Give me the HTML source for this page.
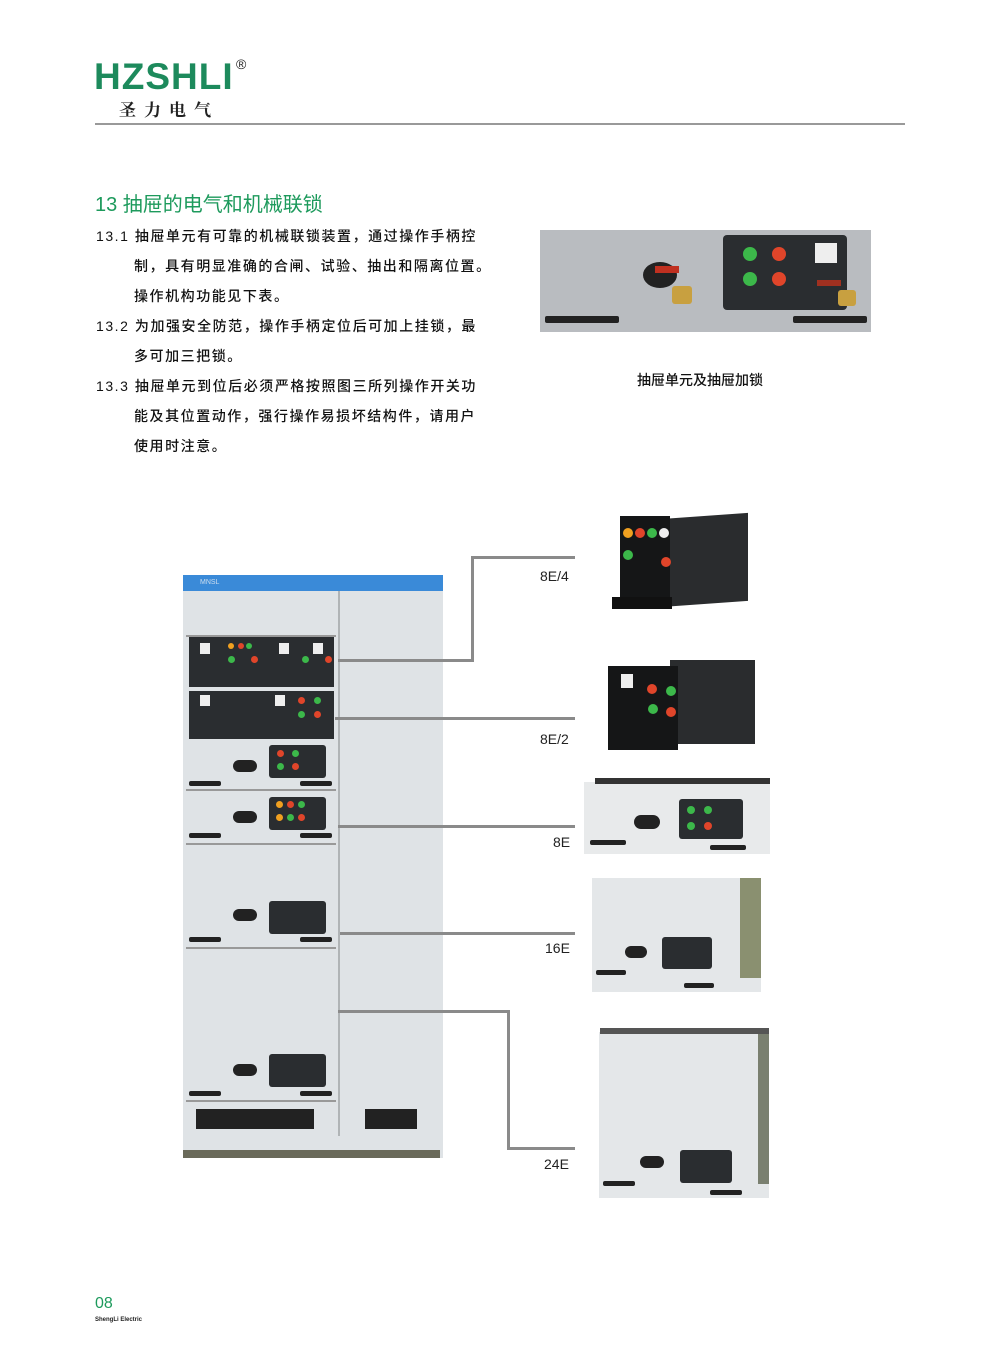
<!DOCTYPE html>
<html><head><meta charset="utf-8"><style>
*{margin:0;padding:0;box-sizing:border-box}
body{width:1000px;height:1357px;background:#fff;position:relative;overflow:hidden;font-family:"Liberation Sans","Noto Sans CJK SC",sans-serif}
.a{position:absolute}
.t{position:absolute;font-size:14px;color:#111;white-space:nowrap;letter-spacing:1.55px;font-weight:500}
.b{position:absolute;border-radius:50%;width:12px;height:12px}
.r{background:#e0452a}.g{background:#3cb84a}.y{background:#f0a020}.w{background:#eee}
.ln{position:absolute;background:#8a8a8a}
.lab{position:absolute;font-size:14px;color:#222}
.dk{background:#2a2d30}
.rail{position:absolute;height:7px;background:#222;border-radius:2px}
</style></head><body>
<div class="a" style="left:94px;top:56px;font-size:37px;font-weight:bold;color:#1d8a5c;letter-spacing:1px">HZSHLI</div>
<div class="a" style="left:236px;top:56px;font-size:14px;color:#222">®</div>
<div class="a" style="left:119px;top:96px;font-size:17px;font-weight:bold;color:#222;letter-spacing:8px;font-family:'Noto Serif CJK SC',serif">圣力电气</div>
<div class="a" style="left:95px;top:123px;width:810px;height:2px;background:#999"></div>

<div class="a" style="left:95px;top:188px;font-size:20px;color:#1d9a5c">13 抽屉的电气和机械联锁</div>
<div class="t" style="left:96px;top:226px">13.1 抽屉单元有可靠的机械联锁装置，通过操作手柄控</div>
<div class="t" style="left:134px;top:256px">制，具有明显准确的合闸、试验、抽出和隔离位置。</div>
<div class="t" style="left:134px;top:286px">操作机构功能见下表。</div>
<div class="t" style="left:96px;top:316px">13.2 为加强安全防范，操作手柄定位后可加上挂锁，最</div>
<div class="t" style="left:134px;top:346px">多可加三把锁。</div>
<div class="t" style="left:96px;top:376px">13.3 抽屉单元到位后必须严格按照图三所列操作开关功</div>
<div class="t" style="left:134px;top:406px">能及其位置动作，强行操作易损坏结构件，请用户</div>
<div class="t" style="left:134px;top:436px">使用时注意。</div>

<!-- top photo -->
<div class="a" style="left:540px;top:230px;width:331px;height:102px;background:#b9bcc0"></div>
<div class="a dk" style="left:723px;top:235px;width:124px;height:75px;border-radius:4px"></div>
<div class="b g" style="left:743px;top:247px;width:14px;height:14px"></div>
<div class="b r" style="left:772px;top:247px;width:14px;height:14px"></div>
<div class="b g" style="left:743px;top:272px;width:14px;height:14px"></div>
<div class="b r" style="left:772px;top:272px;width:14px;height:14px"></div>
<div class="a" style="left:815px;top:243px;width:22px;height:20px;background:#eee"></div>
<div class="a" style="left:817px;top:280px;width:24px;height:6px;background:#a03020"></div>
<div class="a" style="left:838px;top:290px;width:18px;height:16px;background:#c8a040;border-radius:3px"></div>
<div class="a" style="left:643px;top:262px;width:34px;height:26px;background:#222;border-radius:50%"></div>
<div class="a" style="left:655px;top:266px;width:24px;height:7px;background:#c03020"></div>
<div class="a" style="left:672px;top:286px;width:20px;height:18px;background:#c8a040;border-radius:3px"></div>
<div class="rail" style="left:545px;top:316px;width:74px"></div>
<div class="rail" style="left:793px;top:316px;width:74px"></div>
<div class="a" style="left:637px;top:370px;font-size:14px;color:#111;font-weight:500">抽屉单元及抽屉加锁</div>

<!-- cabinet -->
<div class="a" style="left:183px;top:575px;width:260px;height:583px;background:#dfe3e6"></div>
<div class="a" style="left:183px;top:575px;width:260px;height:16px;background:#3a8ad8"></div>
<div class="a" style="left:200px;top:579px;font-size:7px;color:#cde">MNSL</div>
<div class="a" style="left:338px;top:591px;width:2px;height:545px;background:#b0b4b6"></div>
<div class="a" style="left:183px;top:1150px;width:257px;height:8px;background:#6a6a5a"></div>
<div class="a" style="left:186px;top:635px;width:150px;height:2px;background:#999"></div>
<div class="a dk" style="left:189px;top:637px;width:145px;height:50px"></div>
<div class="a" style="left:200px;top:643px;width:10px;height:11px;background:#eee"></div>
<div class="a" style="left:279px;top:643px;width:10px;height:11px;background:#eee"></div>
<div class="a" style="left:313px;top:643px;width:10px;height:11px;background:#eee"></div>
<div class="b y" style="left:228px;top:643px;width:6px;height:6px"></div>
<div class="b r" style="left:238px;top:643px;width:6px;height:6px"></div>
<div class="b g" style="left:246px;top:643px;width:6px;height:6px"></div>
<div class="b g" style="left:228px;top:656px;width:7px;height:7px"></div>
<div class="b r" style="left:251px;top:656px;width:7px;height:7px"></div>
<div class="b g" style="left:302px;top:656px;width:7px;height:7px"></div>
<div class="b r" style="left:325px;top:656px;width:7px;height:7px"></div>
<div class="a dk" style="left:189px;top:691px;width:145px;height:48px"></div>
<div class="a" style="left:200px;top:695px;width:10px;height:11px;background:#eee"></div>
<div class="a" style="left:275px;top:695px;width:10px;height:11px;background:#eee"></div>
<div class="b r" style="left:298px;top:697px;width:7px;height:7px"></div>
<div class="b g" style="left:314px;top:697px;width:7px;height:7px"></div>
<div class="b g" style="left:298px;top:711px;width:7px;height:7px"></div>
<div class="b r" style="left:314px;top:711px;width:7px;height:7px"></div>
<div class="a dk" style="left:269px;top:745px;width:57px;height:33px;border-radius:3px"></div>
<div class="b r" style="left:277px;top:750px;width:7px;height:7px"></div><div class="b g" style="left:292px;top:750px;width:7px;height:7px"></div>
<div class="b g" style="left:277px;top:763px;width:7px;height:7px"></div><div class="b r" style="left:292px;top:763px;width:7px;height:7px"></div>
<div class="a" style="left:233px;top:760px;width:24px;height:12px;background:#222;border-radius:6px"></div>
<div class="rail" style="left:189px;top:781px;width:32px;height:5px"></div><div class="rail" style="left:300px;top:781px;width:32px;height:5px"></div>
<div class="a" style="left:186px;top:789px;width:150px;height:2px;background:#999"></div>
<div class="a dk" style="left:269px;top:797px;width:57px;height:33px;border-radius:3px"></div>
<div class="b y" style="left:276px;top:801px;width:7px;height:7px"></div><div class="b r" style="left:287px;top:801px;width:7px;height:7px"></div><div class="b g" style="left:298px;top:801px;width:7px;height:7px"></div>
<div class="b y" style="left:276px;top:814px;width:7px;height:7px"></div><div class="b g" style="left:287px;top:814px;width:7px;height:7px"></div><div class="b r" style="left:298px;top:814px;width:7px;height:7px"></div>
<div class="a" style="left:233px;top:811px;width:24px;height:12px;background:#222;border-radius:6px"></div>
<div class="rail" style="left:189px;top:833px;width:32px;height:5px"></div><div class="rail" style="left:300px;top:833px;width:32px;height:5px"></div>
<div class="a" style="left:186px;top:843px;width:150px;height:2px;background:#999"></div>
<div class="a dk" style="left:269px;top:901px;width:57px;height:33px;border-radius:3px"></div>
<div class="a" style="left:233px;top:909px;width:24px;height:12px;background:#222;border-radius:6px"></div>
<div class="rail" style="left:189px;top:937px;width:32px;height:5px"></div><div class="rail" style="left:300px;top:937px;width:32px;height:5px"></div>
<div class="a" style="left:186px;top:947px;width:150px;height:2px;background:#999"></div>
<div class="a dk" style="left:269px;top:1054px;width:57px;height:33px;border-radius:3px"></div>
<div class="a" style="left:233px;top:1064px;width:24px;height:12px;background:#222;border-radius:6px"></div>
<div class="rail" style="left:189px;top:1091px;width:32px;height:5px"></div><div class="rail" style="left:300px;top:1091px;width:32px;height:5px"></div>
<div class="a" style="left:186px;top:1100px;width:150px;height:2px;background:#999"></div>
<div class="a" style="left:196px;top:1109px;width:118px;height:20px;background:#222"></div>
<div class="a" style="left:365px;top:1109px;width:52px;height:20px;background:#222"></div>

<!-- connectors -->
<div class="ln" style="left:338px;top:659px;width:136px;height:3px"></div>
<div class="ln" style="left:471px;top:556px;width:3px;height:106px"></div>
<div class="ln" style="left:471px;top:556px;width:104px;height:3px"></div>
<div class="ln" style="left:335px;top:717px;width:240px;height:3px"></div>
<div class="ln" style="left:338px;top:825px;width:237px;height:3px"></div>
<div class="ln" style="left:340px;top:932px;width:235px;height:3px"></div>
<div class="ln" style="left:338px;top:1010px;width:172px;height:3px"></div>
<div class="ln" style="left:507px;top:1010px;width:3px;height:140px"></div>
<div class="ln" style="left:507px;top:1147px;width:68px;height:3px"></div>
<div class="lab" style="left:540px;top:568px">8E/4</div>
<div class="lab" style="left:540px;top:731px">8E/2</div>
<div class="lab" style="left:553px;top:834px">8E</div>
<div class="lab" style="left:545px;top:940px">16E</div>
<div class="lab" style="left:544px;top:1156px">24E</div>

<!-- drawers -->
<div class="a" style="left:660px;top:516px;width:88px;height:88px;background:#2a2c2e;transform:skewY(-4deg)"></div>
<div class="a dk" style="left:620px;top:516px;width:50px;height:92px;background:#151617"></div>
<div class="b y" style="left:623px;top:528px;width:10px;height:10px"></div><div class="b r" style="left:635px;top:528px;width:10px;height:10px"></div><div class="b g" style="left:647px;top:528px;width:10px;height:10px"></div><div class="b w" style="left:659px;top:528px;width:10px;height:10px"></div>
<div class="b g" style="left:623px;top:550px;width:10px;height:10px"></div><div class="b r" style="left:661px;top:557px;width:10px;height:10px"></div>
<div class="a" style="left:612px;top:597px;width:60px;height:12px;background:#111"></div>

<div class="a" style="left:670px;top:660px;width:85px;height:84px;background:#2a2c2e"></div>
<div class="a" style="left:608px;top:666px;width:70px;height:84px;background:#151617"></div>
<div class="a" style="left:621px;top:674px;width:12px;height:14px;background:#eee"></div>
<div class="b r" style="left:647px;top:684px;width:10px;height:10px"></div><div class="b g" style="left:666px;top:686px;width:10px;height:10px"></div>
<div class="b g" style="left:648px;top:704px;width:10px;height:10px"></div><div class="b r" style="left:666px;top:707px;width:10px;height:10px"></div>

<div class="a" style="left:584px;top:782px;width:186px;height:72px;background:#e8eaeb"></div>
<div class="a" style="left:595px;top:778px;width:175px;height:6px;background:#333"></div>
<div class="a dk" style="left:679px;top:799px;width:64px;height:40px;border-radius:3px"></div>
<div class="b g" style="left:687px;top:806px;width:8px;height:8px"></div><div class="b g" style="left:704px;top:806px;width:8px;height:8px"></div>
<div class="b g" style="left:687px;top:822px;width:8px;height:8px"></div><div class="b r" style="left:704px;top:822px;width:8px;height:8px"></div>
<div class="a" style="left:634px;top:815px;width:26px;height:14px;background:#222;border-radius:7px"></div>
<div class="rail" style="left:590px;top:840px;width:36px;height:5px"></div><div class="rail" style="left:710px;top:845px;width:36px;height:5px"></div>

<div class="a" style="left:592px;top:878px;width:169px;height:114px;background:#e4e7e9"></div>
<div class="a" style="left:740px;top:878px;width:21px;height:100px;background:#8a9070"></div>
<div class="a dk" style="left:662px;top:937px;width:50px;height:32px;border-radius:3px"></div>
<div class="a" style="left:625px;top:946px;width:22px;height:12px;background:#222;border-radius:6px"></div>
<div class="rail" style="left:596px;top:970px;width:30px;height:5px"></div><div class="rail" style="left:684px;top:983px;width:30px;height:5px"></div>

<div class="a" style="left:599px;top:1032px;width:170px;height:166px;background:#e4e7e9"></div>
<div class="a" style="left:600px;top:1028px;width:169px;height:6px;background:#555"></div>
<div class="a" style="left:758px;top:1034px;width:11px;height:150px;background:#7a8070"></div>
<div class="a dk" style="left:680px;top:1150px;width:52px;height:33px;border-radius:3px"></div>
<div class="a" style="left:640px;top:1156px;width:24px;height:12px;background:#222;border-radius:6px"></div>
<div class="rail" style="left:603px;top:1181px;width:32px;height:5px"></div><div class="rail" style="left:710px;top:1190px;width:32px;height:5px"></div>

<div class="a" style="left:95px;top:1295px;font-size:16px;color:#1d9a5c">08</div>
<div class="a" style="left:95px;top:1317px;font-size:6px;font-weight:bold;color:#222">ShengLi Electric</div>
</body></html>
